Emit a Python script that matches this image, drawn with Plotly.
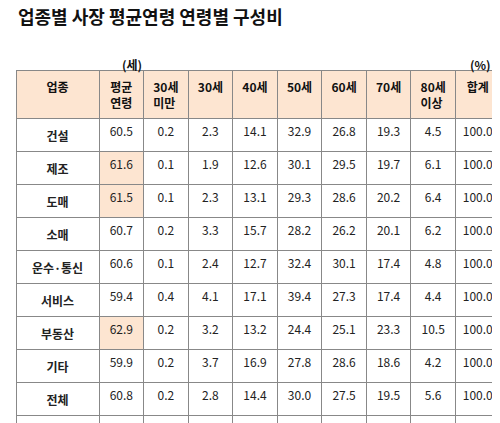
import plotly.graph_objects as go

industries = ["건설", "제조", "도매", "소매", "운수·통신", "서비스", "부동산", "기타", "전체", "이 중 상장기업"]
headers = ["업종", "평균<br>연령", "30세<br>미만", "30세", "40세", "50세", "60세", "70세", "80세<br>이상", "합계"]
avg_age = [60.5, 61.6, 61.5, 60.7, 60.6, 59.4, 62.9, 59.9, 60.8, 58.7]
under30 = [0.2, 0.1, 0.1, 0.2, 0.1, 0.4, 0.2, 0.2, 0.2, 0.1]
age30 = [2.3, 1.9, 2.3, 3.3, 2.4, 4.1, 3.2, 3.7, 2.8, 2.4]
age40 = [14.1, 12.6, 13.1, 15.7, 12.7, 17.1, 13.2, 16.9, 14.4, 14.6]
age50 = [32.9, 30.1, 29.3, 28.2, 32.4, 39.4, 24.4, 27.8, 30.0, 30.9]
age60 = [26.8, 29.5, 28.6, 26.2, 30.1, 27.3, 25.1, 28.6, 27.5, 43.1]
age70 = [19.3, 19.7, 20.2, 20.1, 17.4, 17.4, 23.3, 18.6, 19.5, 8.1]
over80 = [4.5, 6.1, 6.4, 6.2, 4.8, 4.4, 10.5, 4.2, 5.6, 0.9]
total = [100.0] * 10
highlight = ["제조", "도매", "부동산"]

peach = "#fde5d1"
avg_fill = [peach if i in highlight else "white" for i in industries]
fills = [["white"] * 10, avg_fill] + [["white"] * 10] * 8
values = [["<b>%s</b>" % i for i in industries], avg_age, under30, age30, age40,
          age50, age60, age70, over80, total]

fig = go.Figure(go.Table(
    columnwidth=[82] + [44] * 9,
    header=dict(values=["<b>%s</b>" % h for h in headers], fill_color=peach,
                line_color="#888", align="center", height=38,
                font=dict(family="Noto Sans CJK KR", size=12, color="#111")),
    cells=dict(values=values, fill_color=fills, line_color="#888", align="center",
               height=25, format=[None] + [".1f"] * 9,
               font=dict(family="Noto Sans CJK KR", size=12, color="#222")),
))
fig.update_layout(
    width=500, height=423, margin=dict(l=8, r=8, t=62, b=0),
    paper_bgcolor="white",
    font=dict(family="Noto Sans CJK KR"),
)
fig.add_annotation(text="<b>업종별 사장 평균연령 연령별 구성비</b>", x=0, y=1.15, xref="paper", yref="paper",
                   xanchor="left", yanchor="middle", showarrow=False, font=dict(size=18, color="#111"))
fig.add_annotation(text="<b>(세)</b>", x=0.215, y=1.045, xref="paper", yref="paper",
                   showarrow=False, font=dict(size=12, color="#111"))
fig.add_annotation(text="<b>(%)</b>", x=0.985, y=1.045, xref="paper", yref="paper",
                   showarrow=False, font=dict(size=12, color="#111"))
fig.write_html("out.html")
